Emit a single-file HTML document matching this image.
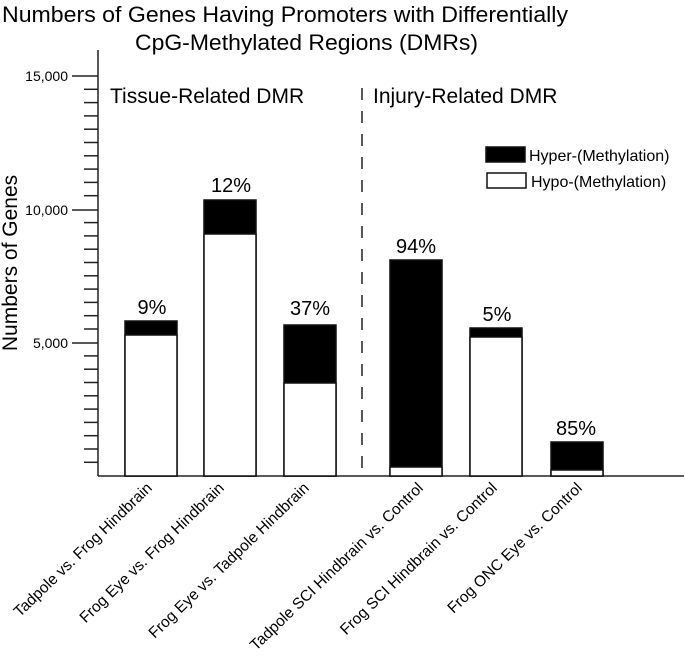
<!DOCTYPE html>
<html><head><style>body{margin:0;background:#fff}svg{display:block}</style></head><body>
<svg width="685" height="656" viewBox="0 0 685 656" xmlns="http://www.w3.org/2000/svg" font-family="Liberation Sans, Arial, sans-serif">
<text x="2" y="22" font-size="22" textLength="566" lengthAdjust="spacingAndGlyphs">Numbers of Genes Having Promoters with Differentially</text>
<text x="135" y="50" font-size="22" textLength="343" lengthAdjust="spacingAndGlyphs">CpG-Methylated Regions (DMRs)</text>
<g stroke="#222" stroke-width="1.5">
<line x1="98" y1="50" x2="98" y2="476"/>
<line x1="98" y1="476" x2="684" y2="476"/>
<line x1="72" y1="76" x2="98" y2="76"/>
<line x1="72" y1="210" x2="98" y2="210"/>
<line x1="72" y1="343" x2="98" y2="343"/>
<g id="m">
<line x1="84" y1="89.3" x2="98" y2="89.3"/><line x1="84" y1="102.6" x2="98" y2="102.6"/><line x1="84" y1="115.9" x2="98" y2="115.9"/><line x1="84" y1="129.2" x2="98" y2="129.2"/><line x1="84" y1="142.5" x2="98" y2="142.5"/><line x1="84" y1="155.8" x2="98" y2="155.8"/><line x1="84" y1="169.1" x2="98" y2="169.1"/><line x1="84" y1="182.4" x2="98" y2="182.4"/><line x1="84" y1="195.7" x2="98" y2="195.7"/>
</g>
<use href="#m" y="133.3"/>
<use href="#m" y="266.6"/>
</g>
<g font-size="14" text-anchor="end">
<text x="68" y="81">15,000</text>
<text x="68" y="215">10,000</text>
<text x="68" y="348">5,000</text>
</g>
<text transform="translate(17,263) rotate(-90)" font-size="21" text-anchor="middle">Numbers of Genes</text>
<text x="110" y="103" font-size="21">Tissue-Related DMR</text>
<text x="373" y="103" font-size="21">Injury-Related DMR</text>
<line x1="362" y1="88" x2="362" y2="472" stroke="#222" stroke-width="1.5" stroke-dasharray="12,11"/>
<g stroke="#111" stroke-width="1.5">
<rect x="125" y="321" width="52" height="155" fill="#000"/><rect x="125" y="335" width="52" height="141" fill="#fff"/>
<rect x="204" y="200" width="52" height="276" fill="#000"/><rect x="204" y="234" width="52" height="242" fill="#fff"/>
<rect x="284" y="325" width="52" height="151" fill="#000"/><rect x="284" y="383" width="52" height="93" fill="#fff"/>
<rect x="390" y="260" width="52" height="216" fill="#000"/><rect x="390" y="467" width="52" height="9" fill="#fff"/>
<rect x="470" y="328" width="52" height="148" fill="#000"/><rect x="470" y="337" width="52" height="139" fill="#fff"/>
<rect x="551" y="442" width="52" height="34" fill="#000"/><rect x="551" y="470" width="52" height="6" fill="#fff"/>
<rect x="486" y="147" width="39" height="15" fill="#000"/><rect x="487" y="173" width="39" height="15" fill="#fff"/>
</g>
<g font-size="16"><text x="529" y="161">Hyper-(Methylation)</text><text x="531" y="187">Hypo-(Methylation)</text></g>
<g font-size="20" text-anchor="middle">
<text x="152" y="314">9%</text><text x="231" y="192">12%</text><text x="310" y="315">37%</text>
<text x="416" y="253">94%</text><text x="497" y="321">5%</text><text x="576" y="435">85%</text>
</g>
<g font-size="15.5" text-anchor="end">
<text transform="translate(153,489) rotate(-44)">Tadpole vs. Frog Hindbrain</text>
<text transform="translate(225,489) rotate(-44)">Frog Eye vs. Frog Hindbrain</text>
<text transform="translate(310,489) rotate(-44)">Frog Eye vs. Tadpole Hindbrain</text>
<text transform="translate(424,489) rotate(-44)">Tadpole SCI Hindbrain vs. Control</text>
<text transform="translate(498,489) rotate(-44)">Frog SCI Hindbrain vs. Control</text>
<text transform="translate(583,489) rotate(-44)">Frog ONC Eye vs. Control</text>
</g>
</svg>
</body></html>
